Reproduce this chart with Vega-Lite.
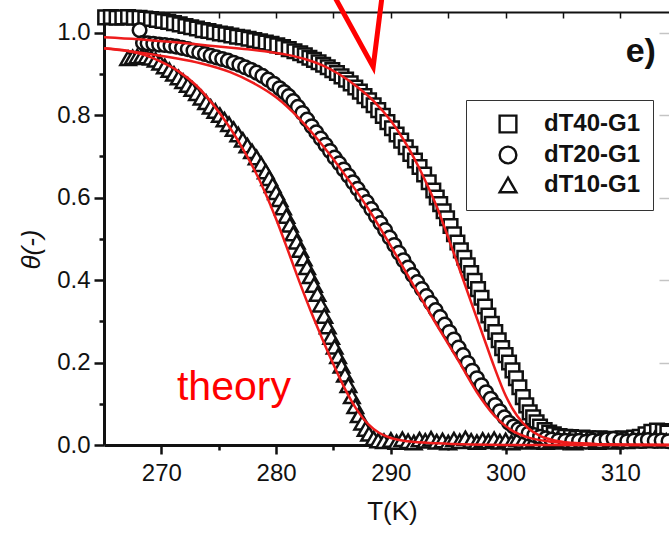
{
  "$schema": "https://vega.github.io/schema/vega-lite/v6.json",
  "width": 565,
  "height": 433,
  "autosize": "none",
  "padding": {"left": 104, "top": 12, "right": 0, "bottom": 88},
  "background": "white",
  "config": {
    "font": "Liberation Sans",
    "view": {"stroke": null},
    "axis": {
      "grid": false,
      "domainColor": "#111111",
      "tickColor": "#111111",
      "labelColor": "#111111",
      "titleColor": "#111111",
      "labelFont": "Liberation Sans",
      "titleFont": "Liberation Sans",
      "labelFontSize": 24,
      "titleFontSize": 26,
      "titleFontWeight": "normal",
      "labelFlush": false,
      "labelOverlap": false
    }
  },
  "datasets": {
    "dT40": [
      {"T": 265.1, "theta": 1.037}, {"T": 265.6, "theta": 1.038}, {"T": 266.1, "theta": 1.036}, {"T": 266.6, "theta": 1.037},
      {"T": 267.1, "theta": 1.038}, {"T": 267.6, "theta": 1.036}, {"T": 268.1, "theta": 1.036}, {"T": 268.6, "theta": 1.034},
      {"T": 269.1, "theta": 1.033}, {"T": 269.6, "theta": 1.031}, {"T": 270.1, "theta": 1.028}, {"T": 270.6, "theta": 1.026},
      {"T": 271.1, "theta": 1.023}, {"T": 271.6, "theta": 1.020}, {"T": 272.1, "theta": 1.016}, {"T": 272.6, "theta": 1.013},
      {"T": 273.1, "theta": 1.010}, {"T": 273.6, "theta": 1.006}, {"T": 274.1, "theta": 1.004}, {"T": 274.6, "theta": 1.001},
      {"T": 275.1, "theta": 0.998}, {"T": 275.6, "theta": 0.996}, {"T": 276.1, "theta": 0.993}, {"T": 276.6, "theta": 0.990},
      {"T": 277.1, "theta": 0.988}, {"T": 277.6, "theta": 0.985}, {"T": 278.1, "theta": 0.982}, {"T": 278.6, "theta": 0.979},
      {"T": 279.1, "theta": 0.976}, {"T": 279.6, "theta": 0.973}, {"T": 280.1, "theta": 0.969}, {"T": 280.6, "theta": 0.965},
      {"T": 281.1, "theta": 0.960}, {"T": 281.6, "theta": 0.955}, {"T": 282.1, "theta": 0.950}, {"T": 282.5, "theta": 0.945},
      {"T": 282.9, "theta": 0.939}, {"T": 283.3, "theta": 0.934}, {"T": 283.7, "theta": 0.928}, {"T": 284.1, "theta": 0.922},
      {"T": 284.5, "theta": 0.916}, {"T": 284.9, "theta": 0.909}, {"T": 285.3, "theta": 0.902}, {"T": 285.7, "theta": 0.894},
      {"T": 286.1, "theta": 0.886}, {"T": 286.5, "theta": 0.877}, {"T": 286.9, "theta": 0.867}, {"T": 287.3, "theta": 0.857},
      {"T": 287.7, "theta": 0.846}, {"T": 288.1, "theta": 0.836}, {"T": 288.5, "theta": 0.824}, {"T": 288.9, "theta": 0.812},
      {"T": 289.3, "theta": 0.798}, {"T": 289.7, "theta": 0.783}, {"T": 290.1, "theta": 0.768}, {"T": 290.5, "theta": 0.753},
      {"T": 290.9, "theta": 0.738}, {"T": 291.3, "theta": 0.722}, {"T": 291.7, "theta": 0.706}, {"T": 292.1, "theta": 0.690},
      {"T": 292.5, "theta": 0.674}, {"T": 292.9, "theta": 0.656}, {"T": 293.3, "theta": 0.637}, {"T": 293.7, "theta": 0.617},
      {"T": 294.0, "theta": 0.600}, {"T": 294.3, "theta": 0.584}, {"T": 294.6, "theta": 0.567}, {"T": 294.9, "theta": 0.550},
      {"T": 295.2, "theta": 0.531}, {"T": 295.5, "theta": 0.511}, {"T": 295.8, "theta": 0.491}, {"T": 296.1, "theta": 0.472},
      {"T": 296.4, "theta": 0.454}, {"T": 296.7, "theta": 0.436}, {"T": 297.0, "theta": 0.417}, {"T": 297.3, "theta": 0.398},
      {"T": 297.6, "theta": 0.378}, {"T": 297.9, "theta": 0.357}, {"T": 298.2, "theta": 0.336}, {"T": 298.5, "theta": 0.314},
      {"T": 298.8, "theta": 0.294}, {"T": 299.1, "theta": 0.274}, {"T": 299.4, "theta": 0.254}, {"T": 299.7, "theta": 0.235},
      {"T": 300.0, "theta": 0.218}, {"T": 300.3, "theta": 0.200}, {"T": 300.6, "theta": 0.181}, {"T": 300.9, "theta": 0.162},
      {"T": 301.2, "theta": 0.140}, {"T": 301.5, "theta": 0.116}, {"T": 301.8, "theta": 0.096}, {"T": 302.1, "theta": 0.079},
      {"T": 302.4, "theta": 0.067}, {"T": 302.7, "theta": 0.055}, {"T": 303.0, "theta": 0.045}, {"T": 303.4, "theta": 0.036},
      {"T": 303.8, "theta": 0.030}, {"T": 304.2, "theta": 0.026}, {"T": 304.7, "theta": 0.022}, {"T": 305.2, "theta": 0.020},
      {"T": 305.7, "theta": 0.019}, {"T": 306.2, "theta": 0.017}, {"T": 306.7, "theta": 0.018}, {"T": 307.2, "theta": 0.016},
      {"T": 307.7, "theta": 0.015}, {"T": 308.2, "theta": 0.016}, {"T": 308.7, "theta": 0.013}, {"T": 309.2, "theta": 0.015},
      {"T": 309.7, "theta": 0.014}, {"T": 310.2, "theta": 0.016}, {"T": 310.7, "theta": 0.014}, {"T": 311.2, "theta": 0.018},
      {"T": 311.7, "theta": 0.020}, {"T": 312.2, "theta": 0.026}, {"T": 312.7, "theta": 0.032}, {"T": 313.2, "theta": 0.035},
      {"T": 313.7, "theta": 0.034}, {"T": 314.1, "theta": 0.030}
    ],
    "dT20": [
      {"T": 268.1, "theta": 1.006}, {"T": 268.4, "theta": 0.975}, {"T": 268.8, "theta": 0.974}, {"T": 269.3, "theta": 0.973},
      {"T": 269.8, "theta": 0.971}, {"T": 270.3, "theta": 0.970}, {"T": 270.8, "theta": 0.968}, {"T": 271.3, "theta": 0.966},
      {"T": 271.8, "theta": 0.963}, {"T": 272.3, "theta": 0.960}, {"T": 272.8, "theta": 0.956}, {"T": 273.3, "theta": 0.952},
      {"T": 273.8, "theta": 0.948}, {"T": 274.3, "theta": 0.944}, {"T": 274.8, "theta": 0.940}, {"T": 275.3, "theta": 0.936},
      {"T": 275.8, "theta": 0.932}, {"T": 276.3, "theta": 0.927}, {"T": 276.8, "theta": 0.922}, {"T": 277.3, "theta": 0.916},
      {"T": 277.8, "theta": 0.910}, {"T": 278.3, "theta": 0.903}, {"T": 278.8, "theta": 0.895}, {"T": 279.3, "theta": 0.886},
      {"T": 279.8, "theta": 0.876}, {"T": 280.3, "theta": 0.865}, {"T": 280.7, "theta": 0.856}, {"T": 281.1, "theta": 0.846},
      {"T": 281.5, "theta": 0.834}, {"T": 281.9, "theta": 0.820}, {"T": 282.3, "theta": 0.805}, {"T": 282.7, "theta": 0.789},
      {"T": 283.1, "theta": 0.773}, {"T": 283.5, "theta": 0.758}, {"T": 283.9, "theta": 0.743}, {"T": 284.3, "theta": 0.728},
      {"T": 284.7, "theta": 0.713}, {"T": 285.1, "theta": 0.697}, {"T": 285.5, "theta": 0.683}, {"T": 285.9, "theta": 0.668},
      {"T": 286.3, "theta": 0.653}, {"T": 286.7, "theta": 0.637}, {"T": 287.1, "theta": 0.621}, {"T": 287.5, "theta": 0.605},
      {"T": 287.9, "theta": 0.589}, {"T": 288.3, "theta": 0.572}, {"T": 288.7, "theta": 0.555}, {"T": 289.1, "theta": 0.538},
      {"T": 289.5, "theta": 0.521}, {"T": 289.9, "theta": 0.503}, {"T": 290.3, "theta": 0.485}, {"T": 290.7, "theta": 0.466},
      {"T": 291.1, "theta": 0.448}, {"T": 291.5, "theta": 0.430}, {"T": 291.9, "theta": 0.412}, {"T": 292.3, "theta": 0.395},
      {"T": 292.7, "theta": 0.378}, {"T": 293.1, "theta": 0.361}, {"T": 293.5, "theta": 0.344}, {"T": 293.9, "theta": 0.327},
      {"T": 294.3, "theta": 0.310}, {"T": 294.7, "theta": 0.292}, {"T": 295.1, "theta": 0.274}, {"T": 295.5, "theta": 0.256},
      {"T": 295.9, "theta": 0.236}, {"T": 296.3, "theta": 0.218}, {"T": 296.7, "theta": 0.199}, {"T": 297.1, "theta": 0.180},
      {"T": 297.5, "theta": 0.162}, {"T": 297.9, "theta": 0.145}, {"T": 298.3, "theta": 0.128}, {"T": 298.7, "theta": 0.112},
      {"T": 299.1, "theta": 0.097}, {"T": 299.5, "theta": 0.082}, {"T": 299.9, "theta": 0.067}, {"T": 300.3, "theta": 0.054},
      {"T": 300.7, "theta": 0.045}, {"T": 301.1, "theta": 0.038}, {"T": 301.5, "theta": 0.033}, {"T": 302.0, "theta": 0.028},
      {"T": 302.5, "theta": 0.024}, {"T": 303.0, "theta": 0.020}, {"T": 303.5, "theta": 0.016}, {"T": 304.0, "theta": 0.013},
      {"T": 304.6, "theta": 0.011}, {"T": 305.2, "theta": 0.010}, {"T": 305.8, "theta": 0.009}, {"T": 306.4, "theta": 0.010},
      {"T": 307.0, "theta": 0.008}, {"T": 307.6, "theta": 0.011}, {"T": 308.2, "theta": 0.009}, {"T": 308.8, "theta": 0.013},
      {"T": 309.4, "theta": 0.015}, {"T": 310.0, "theta": 0.010}, {"T": 310.6, "theta": 0.009}, {"T": 311.2, "theta": 0.011},
      {"T": 311.8, "theta": 0.010}, {"T": 312.4, "theta": 0.012}, {"T": 313.0, "theta": 0.010}, {"T": 313.6, "theta": 0.011},
      {"T": 314.2, "theta": 0.009}
    ],
    "dT10": [
      {"T": 267.1, "theta": 0.938}, {"T": 267.5, "theta": 0.940}, {"T": 267.9, "theta": 0.942}, {"T": 268.3, "theta": 0.943},
      {"T": 268.7, "theta": 0.942}, {"T": 269.1, "theta": 0.939}, {"T": 269.5, "theta": 0.934}, {"T": 269.9, "theta": 0.927},
      {"T": 270.3, "theta": 0.918}, {"T": 270.7, "theta": 0.909}, {"T": 271.1, "theta": 0.900}, {"T": 271.5, "theta": 0.891},
      {"T": 271.9, "theta": 0.882}, {"T": 272.3, "theta": 0.873}, {"T": 272.7, "theta": 0.863}, {"T": 273.1, "theta": 0.853},
      {"T": 273.5, "theta": 0.842}, {"T": 273.9, "theta": 0.831}, {"T": 274.3, "theta": 0.820}, {"T": 274.7, "theta": 0.810},
      {"T": 275.1, "theta": 0.800}, {"T": 275.5, "theta": 0.789}, {"T": 275.9, "theta": 0.778}, {"T": 276.3, "theta": 0.766},
      {"T": 276.7, "theta": 0.753}, {"T": 277.1, "theta": 0.740}, {"T": 277.5, "theta": 0.726}, {"T": 277.9, "theta": 0.712},
      {"T": 278.3, "theta": 0.697}, {"T": 278.7, "theta": 0.681}, {"T": 279.1, "theta": 0.663}, {"T": 279.4, "theta": 0.647},
      {"T": 279.7, "theta": 0.630}, {"T": 280.0, "theta": 0.613}, {"T": 280.3, "theta": 0.596}, {"T": 280.6, "theta": 0.576},
      {"T": 280.9, "theta": 0.555}, {"T": 281.2, "theta": 0.534}, {"T": 281.5, "theta": 0.513}, {"T": 281.8, "theta": 0.493},
      {"T": 282.1, "theta": 0.473}, {"T": 282.4, "theta": 0.452}, {"T": 282.7, "theta": 0.431}, {"T": 283.0, "theta": 0.409},
      {"T": 283.3, "theta": 0.388}, {"T": 283.6, "theta": 0.366}, {"T": 283.9, "theta": 0.340}, {"T": 284.2, "theta": 0.313},
      {"T": 284.5, "theta": 0.287}, {"T": 284.8, "theta": 0.262}, {"T": 285.1, "theta": 0.238}, {"T": 285.4, "theta": 0.215},
      {"T": 285.7, "theta": 0.192}, {"T": 286.0, "theta": 0.170}, {"T": 286.3, "theta": 0.145}, {"T": 286.6, "theta": 0.118},
      {"T": 286.9, "theta": 0.094}, {"T": 287.2, "theta": 0.072}, {"T": 287.5, "theta": 0.054}, {"T": 287.8, "theta": 0.039},
      {"T": 288.1, "theta": 0.027}, {"T": 288.5, "theta": 0.016}, {"T": 288.9, "theta": 0.011}, {"T": 289.4, "theta": 0.009},
      {"T": 290.0, "theta": 0.012}, {"T": 290.5, "theta": 0.007}, {"T": 291.0, "theta": 0.014}, {"T": 291.5, "theta": 0.009},
      {"T": 292.0, "theta": 0.006}, {"T": 292.5, "theta": 0.013}, {"T": 293.0, "theta": 0.010}, {"T": 293.5, "theta": 0.015},
      {"T": 294.0, "theta": 0.008}, {"T": 294.5, "theta": 0.011}, {"T": 295.0, "theta": 0.006}, {"T": 295.5, "theta": 0.013},
      {"T": 296.0, "theta": 0.009}, {"T": 296.5, "theta": 0.016}, {"T": 297.0, "theta": 0.010}, {"T": 297.5, "theta": 0.007},
      {"T": 298.0, "theta": 0.012}, {"T": 298.5, "theta": 0.009}, {"T": 299.0, "theta": 0.014}, {"T": 299.5, "theta": 0.008},
      {"T": 300.0, "theta": 0.011}, {"T": 300.5, "theta": 0.006}, {"T": 301.0, "theta": 0.013}, {"T": 301.5, "theta": 0.010},
      {"T": 302.0, "theta": 0.008}, {"T": 302.5, "theta": 0.012}, {"T": 303.0, "theta": 0.009}, {"T": 303.5, "theta": 0.007},
      {"T": 304.0, "theta": 0.011}, {"T": 304.5, "theta": 0.013}, {"T": 305.0, "theta": 0.008}, {"T": 305.5, "theta": 0.010},
      {"T": 306.0, "theta": 0.006}, {"T": 306.5, "theta": 0.012}, {"T": 307.0, "theta": 0.009}, {"T": 307.5, "theta": 0.011},
      {"T": 308.0, "theta": 0.007}, {"T": 308.5, "theta": 0.010}, {"T": 309.0, "theta": 0.013}, {"T": 309.5, "theta": 0.008},
      {"T": 310.0, "theta": 0.011}, {"T": 310.5, "theta": 0.009}, {"T": 311.0, "theta": 0.012}, {"T": 311.5, "theta": 0.010},
      {"T": 312.0, "theta": 0.014}, {"T": 312.5, "theta": 0.011}, {"T": 313.0, "theta": 0.015}, {"T": 313.5, "theta": 0.012},
      {"T": 314.0, "theta": 0.010}
    ],
    "theory": [
      {"curve": "dT40", "T": 265.0, "theta": 0.989}, {"curve": "dT40", "T": 268.0, "theta": 0.984}, {"curve": "dT40", "T": 271.0, "theta": 0.977},
      {"curve": "dT40", "T": 274.0, "theta": 0.969}, {"curve": "dT40", "T": 277.0, "theta": 0.961}, {"curve": "dT40", "T": 279.0, "theta": 0.955},
      {"curve": "dT40", "T": 281.0, "theta": 0.946}, {"curve": "dT40", "T": 282.5, "theta": 0.936}, {"curve": "dT40", "T": 284.0, "theta": 0.921},
      {"curve": "dT40", "T": 285.5, "theta": 0.899}, {"curve": "dT40", "T": 287.0, "theta": 0.870}, {"curve": "dT40", "T": 288.5, "theta": 0.834},
      {"curve": "dT40", "T": 290.0, "theta": 0.786}, {"curve": "dT40", "T": 291.0, "theta": 0.745}, {"curve": "dT40", "T": 292.0, "theta": 0.697},
      {"curve": "dT40", "T": 293.0, "theta": 0.641}, {"curve": "dT40", "T": 294.0, "theta": 0.578}, {"curve": "dT40", "T": 295.0, "theta": 0.503},
      {"curve": "dT40", "T": 296.0, "theta": 0.425}, {"curve": "dT40", "T": 297.0, "theta": 0.346}, {"curve": "dT40", "T": 298.0, "theta": 0.268},
      {"curve": "dT40", "T": 299.0, "theta": 0.190}, {"curve": "dT40", "T": 300.0, "theta": 0.120}, {"curve": "dT40", "T": 301.0, "theta": 0.071},
      {"curve": "dT40", "T": 302.0, "theta": 0.040}, {"curve": "dT40", "T": 303.0, "theta": 0.022}, {"curve": "dT40", "T": 304.5, "theta": 0.010},
      {"curve": "dT40", "T": 306.5, "theta": 0.004}, {"curve": "dT40", "T": 309.0, "theta": 0.001}, {"curve": "dT40", "T": 311.0, "theta": 0.0},
      {"curve": "dT40", "T": 314.3, "theta": 0.0},
      {"curve": "dT20", "T": 265.0, "theta": 0.962}, {"curve": "dT20", "T": 268.0, "theta": 0.952}, {"curve": "dT20", "T": 271.0, "theta": 0.939},
      {"curve": "dT20", "T": 273.5, "theta": 0.925}, {"curve": "dT20", "T": 276.0, "theta": 0.904}, {"curve": "dT20", "T": 278.0, "theta": 0.878},
      {"curve": "dT20", "T": 280.0, "theta": 0.843}, {"curve": "dT20", "T": 282.0, "theta": 0.792}, {"curve": "dT20", "T": 284.0, "theta": 0.728},
      {"curve": "dT20", "T": 286.0, "theta": 0.655}, {"curve": "dT20", "T": 288.0, "theta": 0.574}, {"curve": "dT20", "T": 290.0, "theta": 0.482},
      {"curve": "dT20", "T": 292.0, "theta": 0.386}, {"curve": "dT20", "T": 294.0, "theta": 0.291}, {"curve": "dT20", "T": 296.0, "theta": 0.199},
      {"curve": "dT20", "T": 297.5, "theta": 0.128}, {"curve": "dT20", "T": 299.0, "theta": 0.072}, {"curve": "dT20", "T": 300.5, "theta": 0.036},
      {"curve": "dT20", "T": 302.0, "theta": 0.018}, {"curve": "dT20", "T": 304.0, "theta": 0.008}, {"curve": "dT20", "T": 307.0, "theta": 0.003},
      {"curve": "dT20", "T": 310.0, "theta": 0.001}, {"curve": "dT20", "T": 314.3, "theta": 0.0},
      {"curve": "dT10", "T": 265.0, "theta": 0.962}, {"curve": "dT10", "T": 267.0, "theta": 0.956}, {"curve": "dT10", "T": 268.5, "theta": 0.946},
      {"curve": "dT10", "T": 270.0, "theta": 0.929}, {"curve": "dT10", "T": 271.5, "theta": 0.906}, {"curve": "dT10", "T": 273.0, "theta": 0.873},
      {"curve": "dT10", "T": 274.5, "theta": 0.826}, {"curve": "dT10", "T": 276.0, "theta": 0.768}, {"curve": "dT10", "T": 277.0, "theta": 0.723},
      {"curve": "dT10", "T": 278.0, "theta": 0.673}, {"curve": "dT10", "T": 279.0, "theta": 0.615}, {"curve": "dT10", "T": 280.0, "theta": 0.548},
      {"curve": "dT10", "T": 281.0, "theta": 0.474}, {"curve": "dT10", "T": 282.0, "theta": 0.398}, {"curve": "dT10", "T": 283.0, "theta": 0.326},
      {"curve": "dT10", "T": 284.0, "theta": 0.259}, {"curve": "dT10", "T": 285.0, "theta": 0.195}, {"curve": "dT10", "T": 286.0, "theta": 0.136},
      {"curve": "dT10", "T": 287.0, "theta": 0.087}, {"curve": "dT10", "T": 288.0, "theta": 0.051}, {"curve": "dT10", "T": 289.0, "theta": 0.029},
      {"curve": "dT10", "T": 290.0, "theta": 0.017}, {"curve": "dT10", "T": 291.5, "theta": 0.009}, {"curve": "dT10", "T": 294.0, "theta": 0.004},
      {"curve": "dT10", "T": 297.0, "theta": 0.001}, {"curve": "dT10", "T": 300.0, "theta": 0.0}, {"curve": "dT10", "T": 314.3, "theta": 0.0}
    ],
    "pointer": [
      {"k": 0, "T": 284.96, "theta": 1.094},
      {"k": 1, "T": 288.46, "theta": 0.917},
      {"k": 2, "T": 289.26, "theta": 1.094}
    ]
  },
  "layer": [
    {
      "data": {"name": "dT40"},
      "mark": {"type": "point", "filled": false, "fill": "white", "stroke": "#111111", "strokeWidth": 2.5, "size": 185, "opacity": 1},
      "encoding": {
        "x": {
          "field": "T", "type": "quantitative",
          "scale": {"domain": [265, 314.24], "nice": false, "zero": false},
          "axis": {
            "orient": "bottom",
            "values": [270, 275, 280, 285, 290, 295, 300, 305, 310],
            "labelExpr": "datum.value % 10 === 0 ? datum.label : ''",
            "tickSize": {"condition": {"test": "datum.value % 10 === 0", "value": 9}, "value": 5},
            "tickWidth": 2.5,
            "domainWidth": 3,
            "labelPadding": 7,
            "title": "T(K)",
            "titleX": 288,
            "titleY": 53,
            "titleAlign": "center",
            "titleBaseline": "top"
          }
        },
        "y": {
          "field": "theta", "type": "quantitative",
          "scale": {"domain": [0, 1.05], "nice": false},
          "axis": {
            "orient": "left",
            "values": [0, 0.1, 0.2, 0.3, 0.4, 0.5, 0.6, 0.7, 0.8, 0.9, 1.0],
            "labelExpr": "round(datum.value * 10) % 2 === 0 ? format(datum.value, '.1f') : ''",
            "tickSize": {"condition": {"test": "round(datum.value * 10) % 2 === 0", "value": 10}, "value": 5},
            "tickWidth": 2.5,
            "domainWidth": 3,
            "labelPadding": 4,
            "title": "θ(-)",
            "titleFontStyle": "italic",
            "titleX": -73,
            "titleY": 237,
            "titleAngle": -90,
            "titleAlign": "center",
            "titleBaseline": "middle"
          }
        },
        "shape": {
          "datum": "dT40-G1",
          "scale": {"domain": ["dT40-G1", "dT20-G1", "dT10-G1"], "range": ["square", "circle", "triangle-up"]},
          "legend": {
            "title": null,
            "orient": "none",
            "legendX": 362,
            "legendY": 88,
            "padding": 12,
            "strokeColor": "#333333",
            "fillColor": "white",
            "symbolSize": 280,
            "symbolStrokeWidth": 2.4,
            "symbolOffset": 18,
            "labelOffset": 24,
            "labelFont": "Liberation Sans",
            "labelFontSize": 24,
            "labelFontWeight": "bold",
            "labelColor": "#111111",
            "rowPadding": 3,
            "encoding": {
              "symbols": {
                "fill": {"value": "white"},
                "stroke": {"value": "#111111"},
                "strokeWidth": {"value": 2.4},
                "opacity": {"value": 1},
                "fillOpacity": {"value": 1},
                "strokeOpacity": {"value": 1}
              }
            }
          }
        }
      }
    },
    {
      "data": {"name": "dT10"},
      "mark": {"type": "point", "filled": false, "fill": "white", "stroke": "#111111", "strokeWidth": 2.5, "size": 240, "opacity": 1},
      "encoding": {
        "x": {"field": "T", "type": "quantitative", "scale": {"domain": [265, 314.24], "nice": false, "zero": false}, "axis": null},
        "y": {"field": "theta", "type": "quantitative", "scale": {"domain": [0, 1.05], "nice": false}, "axis": null},
        "shape": {"datum": "dT10-G1"}
      }
    },
    {
      "data": {"name": "dT20"},
      "mark": {"type": "point", "filled": false, "fill": "white", "stroke": "#111111", "strokeWidth": 2.5, "size": 185, "opacity": 1},
      "encoding": {
        "x": {"field": "T", "type": "quantitative", "scale": {"domain": [265, 314.24], "nice": false, "zero": false}, "axis": null},
        "y": {"field": "theta", "type": "quantitative", "scale": {"domain": [0, 1.05], "nice": false}, "axis": null},
        "shape": {"datum": "dT20-G1"}
      }
    },
    {
      "data": {"name": "theory"},
      "mark": {"type": "line", "color": "#ee1c1c", "strokeWidth": 2.5, "interpolate": "monotone"},
      "encoding": {
        "x": {
          "field": "T", "type": "quantitative",
          "scale": {"domain": [265, 314.24], "nice": false, "zero": false},
          "axis": {
            "orient": "top",
            "values": [270, 275, 280, 285, 290, 295, 300, 305, 310],
            "labels": false,
            "title": null,
            "tickSize": -6,
            "tickWidth": 1.5,
            "domainWidth": 2
          }
        },
        "y": {
          "field": "theta", "type": "quantitative",
          "scale": {"domain": [0, 1.05], "nice": false},
          "axis": {
            "orient": "right",
            "values": [0.2, 0.4, 0.6, 0.8, 1.0],
            "labels": false,
            "title": null,
            "domain": false,
            "tickSize": -10,
            "tickWidth": 1.5,
            "tickColor": "#c4c4c4"
          }
        },
        "detail": {"field": "curve"}
      }
    },
    {
      "data": {"name": "pointer"},
      "mark": {"type": "line", "color": "#ff0000", "strokeWidth": 5, "clip": false, "strokeJoin": "miter", "strokeCap": "butt"},
      "encoding": {
        "x": {"field": "T", "type": "quantitative", "scale": {"domain": [265, 314.24], "nice": false, "zero": false}, "axis": null},
        "y": {"field": "theta", "type": "quantitative", "scale": {"domain": [0, 1.05], "nice": false}, "axis": null},
        "order": {"field": "k"}
      }
    },
    {
      "data": {"values": [{}]},
      "mark": {"type": "text", "text": "theory", "color": "#ff0000", "font": "Liberation Sans", "fontSize": 41, "align": "left", "baseline": "alphabetic"},
      "encoding": {
        "x": {"datum": 271.36, "type": "quantitative", "scale": {"domain": [265, 314.24], "nice": false, "zero": false}, "axis": null},
        "y": {"datum": 0.109, "type": "quantitative", "scale": {"domain": [0, 1.05], "nice": false}, "axis": null}
      }
    },
    {
      "data": {"values": [{}]},
      "mark": {"type": "text", "text": "e)", "color": "#111111", "font": "Liberation Sans", "fontSize": 34, "fontWeight": "bold", "align": "right", "baseline": "alphabetic"},
      "encoding": {
        "x": {"datum": 313.1, "type": "quantitative", "scale": {"domain": [265, 314.24], "nice": false, "zero": false}, "axis": null},
        "y": {"datum": 0.928, "type": "quantitative", "scale": {"domain": [0, 1.05], "nice": false}, "axis": null}
      }
    }
  ],
  "resolve": {"axis": {"x": "independent", "y": "independent"}}
}
